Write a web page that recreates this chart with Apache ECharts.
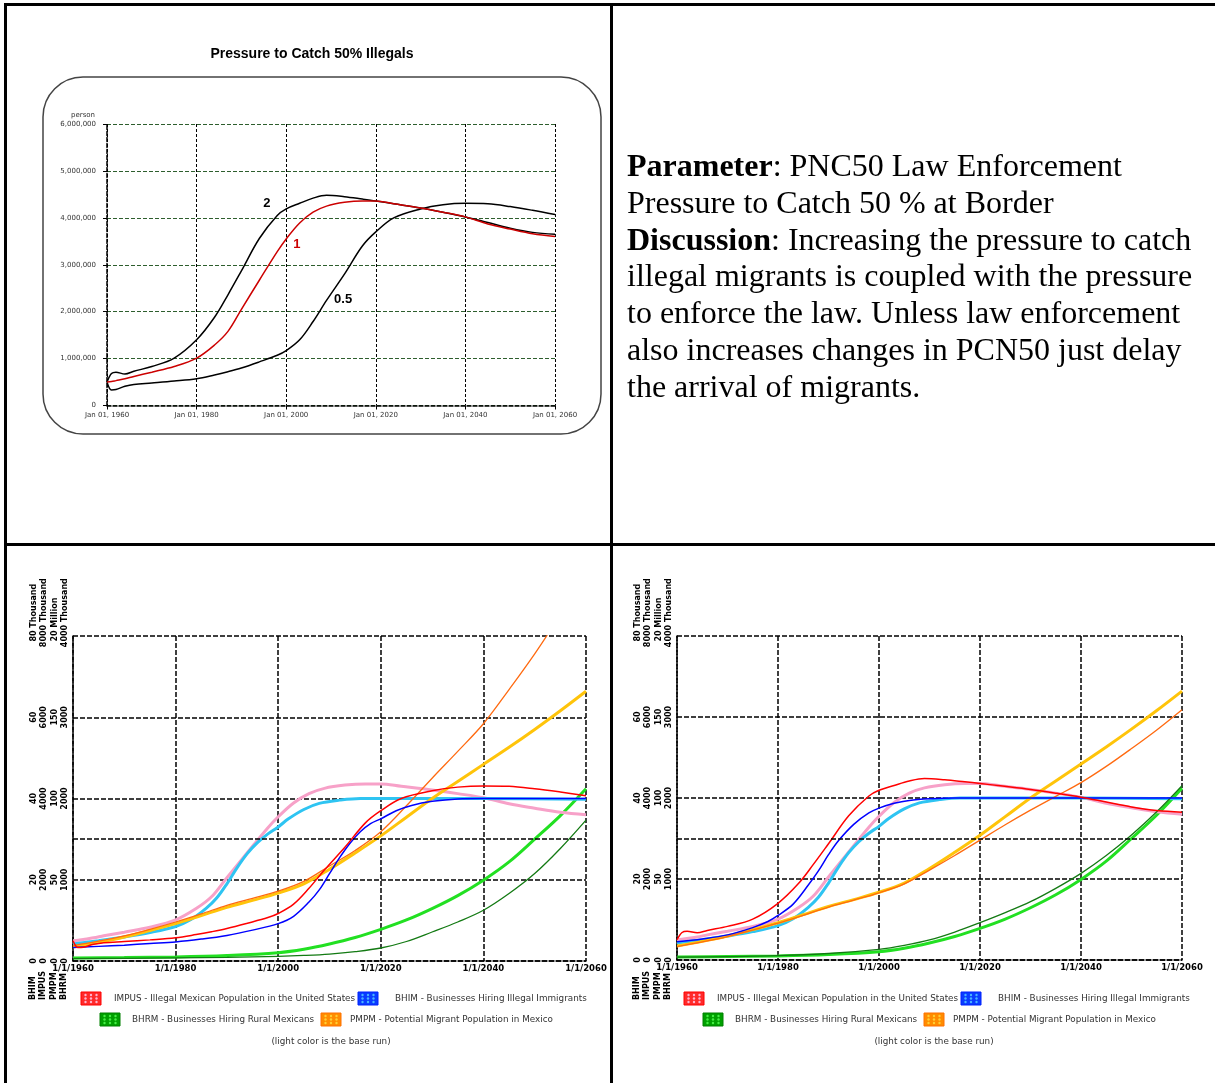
<!DOCTYPE html>
<html><head><meta charset="utf-8">
<script src="https://cdn.jsdelivr.net/npm/echarts@6/dist/echarts.min.js"></script>
<style>
html,body{margin:0;padding:0;background:#fff;}
#chart{position:absolute;left:0;top:0;width:1215px;height:1083px;}
#note{position:absolute;left:627px;top:147px;font-family:'Liberation Serif','Times New Roman',serif;font-size:32px;line-height:36.8px;color:#000;white-space:pre;}
</style></head><body>
<div id="chart"></div>
<div id="note"><b>Parameter</b>: PNC50 Law Enforcement
Pressure to Catch 50 % at Border
<b>Discussion</b>: Increasing the pressure to catch
illegal migrants is coupled with the pressure
to enforce the law. Unless law enforcement
also increases changes in PCN50 just delay
the arrival of migrants.</div>
<script>
// ---------- DATA ----------
// Top chart: Illegal Mexican Population in US (thousand persons) for PNC50 = 2, 1, 0.5
const topYears = [1960,1961,1962,1964,1966,1970,1975,1980,1984,1987,1990,1994,1998,2000,2003,2006,2009,2013,2017,2020,2024,2030,2035,2040,2045,2050,2055,2060];
const impus2  = [500,680,710,670,730,830,1010,1400,1880,2360,2870,3560,4050,4190,4310,4420,4480,4450,4400,4360,4300,4210,4120,4020,3900,3780,3690,3650];
const impus1  = [500,510,530,570,620,710,830,1010,1290,1580,2050,2670,3280,3550,3890,4120,4250,4330,4360,4360,4300,4210,4120,4020,3870,3760,3660,3600];
const impus05 = [500,330,340,410,450,480,520,570,650,720,800,930,1070,1170,1400,1790,2240,2800,3400,3700,4000,4190,4280,4310,4300,4240,4160,4070];
const topXTicks = ['Jan 01, 1960','Jan 01, 1980','Jan 01, 2000','Jan 01, 2020','Jan 01, 2040','Jan 01, 2060'];
const topYTicks = ['0','1,000,000','2,000,000','3,000,000','4,000,000','5,000,000','6,000,000'];
const curveLabels = ['2','1','0.5'];

// BHIM - Businesses Hiring Illegal Immigrants (thousand)
const baseBhimYears = [1960,1965,1970,1975,1980,1983,1986,1988,1990,1992,1994,1996,1998,2000,2002,2005,2008,2012,2016,2020,2040,2060];
const baseBhim      = [4.2,5.0,5.9,7.0,8.5,10.2,13.0,15.5,19.0,23.0,26.5,29.2,31.3,33.0,35.0,37.3,38.8,39.6,40.0,40.0,40.0,39.8];
const bhim05Years = [1960,1965,1970,1975,1980,1985,1990,1995,2000,2003,2006,2008,2010,2012,2014,2016,2018,2020,2023,2026,2030,2035,2040,2060];
const bhim05      = [3.3,3.6,3.9,4.3,4.7,5.4,6.3,7.6,9.2,11.0,14.5,17.5,21.5,25.5,29.0,31.8,33.8,35.0,37.0,38.3,39.3,39.9,40.0,40.0];
const bhim2Years = [1960,1965,1970,1975,1978,1980,1983,1986,1988,1990,1992,1995,1998,2000,2003,2006,2010,2015,2060];
const bhim2      = [4.5,5.2,6.2,8.0,9.5,11.0,13.8,18.5,22.0,26.0,29.5,33.5,36.3,37.5,38.7,39.4,39.8,40.0,40.0];

// PMPM - Potential Migrant Population in Mexico (million)
const pmpmYears = [1960,1965,1970,1975,1980,1985,1990,1995,2000,2005,2010,2015,2020,2025,2030,2035,2040,2045,2050,2055,2060];
const basePmpm = [8.6,11.5,14.8,18.8,23.0,28.0,33.0,37.3,41.8,47.5,56.5,66.5,77.0,88.5,100.0,110.5,121.0,131.5,142.5,154.0,166.0];
const pmpm05   = [9.5,12.2,15.5,19.5,24.0,29.0,34.3,38.6,43.0,49.0,58.5,68.0,79.5,95.5,112.5,129.0,146.0,167.0,189.0,213.0,238.0];
const pmpm2    = [8.3,11.2,14.5,18.5,22.7,27.6,32.7,37.0,41.5,47.0,55.5,64.5,74.0,83.5,92.5,101.0,109.5,119.5,130.5,142.0,154.5];

// BHRM - Businesses Hiring Rural Mexicans (thousand)
const bhrmYears = [1960,1970,1980,1990,2000,2005,2010,2015,2020,2025,2030,2035,2040,2045,2050,2055,2060];
const baseBhrm = [37,42,50,68,103,145,210,290,390,505,645,805,995,1220,1500,1790,2120];
const bhrm05   = [30,33,38,45,57,68,85,115,160,240,357,480,624,830,1076,1384,1733];
const bhrm2    = [35,42,55,80,132,180,247,345,461,585,720,885,1070,1290,1543,1830,2152];

const bottomXTicks = ['1/1/1960','1/1/1980','1/1/2000','1/1/2020','1/1/2040','1/1/2060'];
const bhimTicks  = ['0','20','40','60','80 Thousand'];
const impusTicks = ['0','2000','4000','6000','8000 Thousand'];
const pmpmTicks  = ['0','50','100','150','20 Million'];
const bhrmTicks  = ['0','1000','2000','3000','4000 Thousand'];
const axisNames = ['BHIM','IMPUS','PMPM','BHRM'];
const legendNames = ['IMPUS - Illegal Mexican Population in the United States','BHIM - Businesses Hiring Illegal Immigrants','BHRM - Businesses Hiring Rural Mexicans','PMPM - Potential Migrant Population in Mexico'];
const footNote = '(light color is the base run)';

// ---------- BUILD ----------
const zip = (xs, ys) => xs.map((x, i) => [x, ys[i]]);
const DASH = [5, 2];
const blackDash = {color:'#000', type:DASH, width:1.5};
const LBL_FONT = 'bold 8px "DejaVu Sans"';
const measureCtx = document.createElement('canvas').getContext('2d');
measureCtx.font = LBL_FONT;
const textW = s => measureCtx.measureText(s).width;

const grids = [
  {left:107, top:124, width:448, height:281.5},
  {left:73, top:636, width:513, height:325},
  {left:677, top:636, width:505, height:324}
].map(g => Object.assign(g, {containLabel:false, outerBoundsMode:'none'}));

const xAxes = [
  {type:'value', gridIndex:0, min:1960, max:2060, interval:20,
   axisLine:{show:true, lineStyle:{color:'#000', width:1.5, type:[4,2]}},
   axisTick:{show:true, length:4, lineStyle:{color:'#000'}},
   splitLine:{show:true, lineStyle:{color:'#000', type:[3,2], width:1}},
   axisLabel:{margin:6, fontFamily:'DejaVu Sans', fontSize:7, color:'#333', formatter: v => topXTicks[Math.round((v-1960)/20)]}}
];
[1,2].forEach(g => xAxes.push({type:'value', gridIndex:g, min:1960, max:2060, interval:20,
   axisLine:{show:true, onZero:false, lineStyle:blackDash},
   axisTick:{show:false},
   splitLine:{show:true, lineStyle:blackDash},
   axisLabel:{margin:3, fontFamily:'DejaVu Sans', fontWeight:'bold', fontSize:8.5, color:'#000', showMinLabel:true, showMaxLabel:true,
     formatter: v => bottomXTicks[Math.round((v-1960)/20)]}}));

const yAxes = [
  {type:'value', gridIndex:0, min:0, max:6000, interval:1000,
   name:'person', nameLocation:'end', nameGap:5, nameMoveOverlap:false,
   nameTextStyle:{fontFamily:'DejaVu Sans', fontSize:7, color:'#333', align:'right', padding:[0,12,0,0]},
   axisLine:{show:true, lineStyle:{color:'#000', width:1.5, type:[4,2]}},
   axisTick:{show:true, length:4, lineStyle:{color:'#000'}},
   splitLine:{show:true, lineStyle:{color:'#2e5e2e', type:[4,2], width:1}},
   axisLabel:{margin:11, fontFamily:'DejaVu Sans', fontSize:7, color:'#333', formatter: v => topYTicks[Math.round(v/1000)]}}
];
function yAx(grid, max, ticks, offset, main) {
  const step = max/4;
  const top = ticks[4];
  const unit = top.slice(top.indexOf(' '));
  const labelStyle = {fontFamily:'DejaVu Sans', fontWeight:'bold', fontSize:8, color:'#000'};
  return {type:'value', gridIndex:grid, min:0, max:max, interval:step, position:'left', offset:offset,
    axisLine:{show:main, lineStyle:blackDash},
    axisTick:{show:false},
    splitLine:{show:main, lineStyle:blackDash},
    axisLabel:Object.assign({rotate:90, margin:4, showMinLabel:true, showMaxLabel:true,
      formatter: v => { const i = Math.round(v/step); return i === 4 ? '{u|' + ticks[i] + '}' : ticks[i]; },
      rich:{u:Object.assign({padding:[0,0,0,textW(unit)]}, labelStyle)}}, labelStyle)};
}
// per bottom grid: BHRM (idx +0), PMPM (+1), IMPUS (+2), BHIM (+3)
[1,2].forEach(g => {
  yAxes.push(yAx(g, 4000, bhrmTicks, 0, true));
  yAxes.push(yAx(g, 200, pmpmTicks, 10, false));
  yAxes.push(yAx(g, 8000, impusTicks, 21, false));
  yAxes.push(yAx(g, 80, bhimTicks, 31, false));
});

function line(name, xi, yi, data, color, width, extra) {
  return Object.assign({type:'line', name, xAxisIndex:xi, yAxisIndex:yi, data, showSymbol:false, symbol:'none',
    smooth:0.35, clip:true, lineStyle:{color, width}, itemStyle:{color}, emphasis:{disabled:true}, silent:true}, extra||{});
}
function curveLabel(text, coord, color) {
  return {markPoint:{silent:true, symbol:'circle', symbolSize:0, data:[{coord:coord}],
    label:{show:true, position:'inside', formatter:text, fontFamily:'Liberation Sans', fontWeight:'bold', fontSize:13, color:color}}};
}

const series = [
  line('PNC50 0.5', 0, 0, zip(topYears, impus05), '#000', 1.5, curveLabel(curveLabels[2], [2012.7, 2270], '#000')),
  line('PNC50 2', 0, 0, zip(topYears, impus2), '#000', 1.5, curveLabel(curveLabels[0], [1995.7, 4310], '#000')),
  line('PNC50 1', 0, 0, zip(topYears, impus1), '#cc0000', 1.5, curveLabel(curveLabels[1], [2002.4, 3440], '#cc0000'))
];
function bottomSeries(xi, yBase, impusCur, bhimYrs, bhimCur, pmpmCur, bhrmCur) {
  const Y = {bhrm:yBase, pmpm:yBase+1, impus:yBase+2, bhim:yBase+3};
  return [
    line('BHRM base', xi, Y.bhrm, zip(bhrmYears, baseBhrm), '#22e022', 3, {markLine:{silent:true, symbol:'none', label:{show:false}, lineStyle:blackDash, data:[{yAxis:1500}]}}),
    line('IMPUS base', xi, Y.impus, zip(topYears, impus1), '#f7a1c8', 3),
    line('BHIM base', xi, Y.bhim, zip(baseBhimYears, baseBhim), '#2ec4f2', 3),
    line('PMPM base', xi, Y.pmpm, zip(pmpmYears, basePmpm), '#ffc40a', 3),
    line('PMPM', xi, Y.pmpm, zip(pmpmYears, pmpmCur), '#ff6a10', 1.3),
    line('BHRM', xi, Y.bhrm, zip(bhrmYears, bhrmCur), '#137a13', 1.3),
    line('BHIM', xi, Y.bhim, zip(bhimYrs, bhimCur), '#0000ff', 1.5),
    line('IMPUS', xi, Y.impus, zip(topYears, impusCur), '#ff0000', 1.5)
  ];
}
series.push(...bottomSeries(1, 1, impus05, bhim05Years, bhim05, pmpm05, bhrm05));
series.push(...bottomSeries(2, 5, impus2, bhim2Years, bhim2, pmpm2, bhrm2));

// ---------- GRAPHICS (frame, title, legends) ----------
function txt(x, y, text, font, align, valign, fill, rot) {
  return {type:'text', x, y, rotation: rot||0, silent:true,
    style:{text, font, fill: fill||'#000', align, verticalAlign:valign, textAlign:align, textVerticalAlign:valign}};
}
function swatch(x, y, fill, dot, stroke) {
  const children = [{type:'rect', shape:{x:0, y:0, width:20, height:13}, style:{fill, stroke, lineWidth:1}}];
  for (let i = 0; i < 3; i++) for (let j = 0; j < 3; j++)
    children.push({type:'circle', shape:{cx:4.5+i*5.5, cy:3+j*3.5, r:1.2}, style:{fill:dot}});
  return {type:'group', x, y, silent:true, children};
}
const swatchColors = [['#ff2a2a','#ffb3cc','#ff0000'],['#0a3cff','#4ab4ff','#0020ff'],['#00a000','#44ee44','#008000'],['#ff8c00','#ffcf33','#ff7000']];
const graphics = [
  {type:'rect', shape:{x:4, y:3, width:1211, height:3}, style:{fill:'#000'}, silent:true},
  {type:'rect', shape:{x:4, y:3, width:3, height:1080}, style:{fill:'#000'}, silent:true},
  {type:'rect', shape:{x:610, y:3, width:3, height:1080}, style:{fill:'#000'}, silent:true},
  {type:'rect', shape:{x:4, y:543, width:1211, height:3}, style:{fill:'#000'}, silent:true},
  {type:'rect', shape:{x:43, y:77, width:558, height:357, r:40}, style:{fill:'none', stroke:'#444', lineWidth:1.5}, silent:true},
  txt(312, 54, 'Pressure to Catch 50% Illegals', 'bold 14px "Liberation Sans", Arial', 'center', 'middle')
];
[0, 603].forEach((dx, k) => {
  const gridLeft = k === 0 ? 73 : 677;
  [33, 43, 54, 64].forEach((cx, i) => graphics.push(txt(gridLeft - 73 + cx, 1000, axisNames[i], LBL_FONT, 'left', 'middle', '#000', Math.PI/2)));
  const legFont = '8.8px "DejaVu Sans"';
  graphics.push(swatch(81+dx, 992, ...swatchColors[0]));
  graphics.push(txt(114+dx, 998.5, legendNames[0], legFont, 'left', 'middle', '#333'));
  graphics.push(swatch(358+dx, 992, ...swatchColors[1]));
  graphics.push(txt(395+dx, 998.5, legendNames[1], legFont, 'left', 'middle', '#333'));
  graphics.push(swatch(100+dx, 1013, ...swatchColors[2]));
  graphics.push(txt(132+dx, 1019.5, legendNames[2], legFont, 'left', 'middle', '#333'));
  graphics.push(swatch(321+dx, 1013, ...swatchColors[3]));
  graphics.push(txt(350+dx, 1019.5, legendNames[3], legFont, 'left', 'middle', '#333'));
  graphics.push(txt(331+dx, 1042, footNote, legFont, 'center', 'middle', '#333'));
});

const chart = echarts.init(document.getElementById('chart'), null, {renderer:'canvas'});
chart.setOption({
  animation:false,
  backgroundColor:'#fff',
  grid: grids,
  xAxis: xAxes,
  yAxis: yAxes,
  series: series,
  graphic: graphics
});
</script>
</body></html>
